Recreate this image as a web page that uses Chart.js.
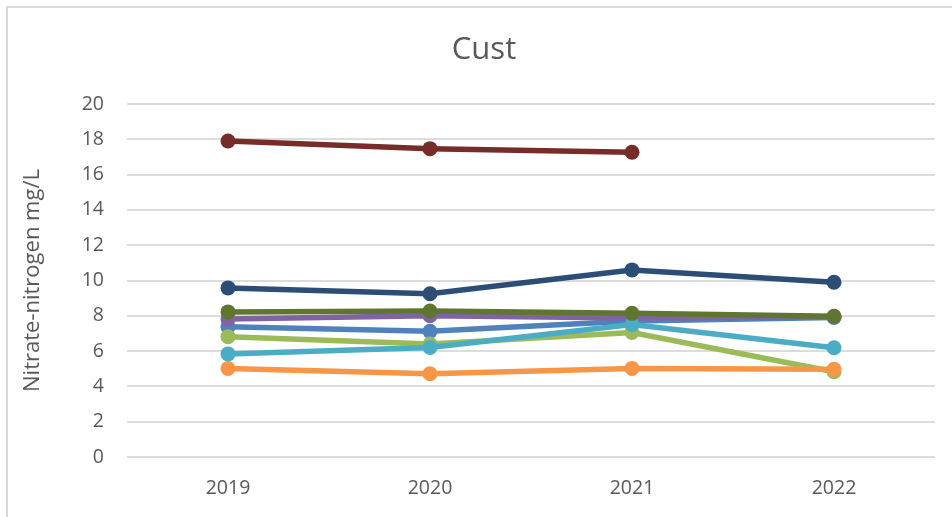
<!DOCTYPE html>
<html>
<head>
<meta charset="utf-8">
<script src="https://cdn.jsdelivr.net/npm/chart.js@4/dist/chart.umd.min.js"></script>
<style>
  html, body { margin: 0; padding: 0; background: #ffffff; }
  #wrap { width: 952px; height: 517px; position: relative; }
</style>
</head>
<body>
<div id="wrap"><canvas id="c" width="952" height="517"></canvas></div>
<script>
// Sampling years
const years = ['2019', '2020', '2021', '2022'];

// Nitrate-nitrogen readings (mg/L) per site, in series order
const siteBlue      = [7.38, 7.12, 7.70, 7.90];
const siteGreen     = [6.82, 6.40, 7.05, 4.83];
const sitePurple    = [7.82, 8.00, 7.88, 7.95];
const siteTeal      = [5.84, 6.21, 7.50, 6.19];
const siteOrange    = [5.02, 4.72, 5.02, 4.97];
const siteNavy      = [9.58, 9.25, 10.60, 9.90];
const siteMaroon    = [17.90, 17.47, 17.27, null];
const siteOlive     = [8.22, 8.27, 8.14, 7.97];

// Y axis ticks
const yTicks = [0, 2, 4, 6, 8, 10, 12, 14, 16, 18, 20];

const chartTitle = 'Cust';

const seriesList = [
  { data: siteBlue,   color: '#4F81BD' },
  { data: siteGreen,  color: '#9BBB59' },
  { data: sitePurple, color: '#8064A2' },
  { data: siteTeal,   color: '#4BACC6' },
  { data: siteOrange, color: '#F79646' },
  { data: siteNavy,   color: '#2C4D75' },
  { data: siteMaroon, color: '#772C2A' },
  { data: siteOlive,  color: '#5F7530' }
];

const FONT = "'Open Sans', 'Liberation Sans', sans-serif";
const TEXT = '#595959';

// White background, the light outer frame and the centred chart title
const framePlugin = {
  id: 'frame',
  beforeDraw(chart) {
    const ctx = chart.ctx;
    ctx.save();
    ctx.fillStyle = '#ffffff';
    ctx.fillRect(0, 0, chart.width, chart.height);
    ctx.strokeStyle = '#d9d9d9';
    ctx.lineWidth = 2;
    ctx.strokeRect(7, 7, 2000, 2000);
    ctx.fillStyle = TEXT;
    ctx.font = "31px " + FONT;
    ctx.textAlign = 'center';
    ctx.textBaseline = 'middle';
    ctx.fillText(chartTitle, 484, 50);
    ctx.restore();
  }
};

new Chart(document.getElementById('c'), {
  type: 'line',
  data: {
    labels: years,
    datasets: seriesList.map((s, i) => ({
      data: s.data,
      borderColor: s.color,
      backgroundColor: s.color,
      pointBackgroundColor: s.color,
      pointBorderColor: s.color,
      borderWidth: 5.5,
      pointRadius: 7.5,
      pointBorderWidth: 0,
      tension: 0,
      fill: false,
      spanGaps: false,
      order: seriesList.length - i
    }))
  },
  options: {
    responsive: false,
    animation: false,
    devicePixelRatio: 1,
    layout: { padding: { left: 0, right: 17, top: 104, bottom: 0 } },
    plugins: {
      legend: { display: false },
      tooltip: { enabled: false },
      title: { display: false }
    },
    scales: {
      x: {
        offset: true,
        grid: { display: false, drawTicks: false },
        border: { display: false },
        ticks: {
          color: TEXT,
          font: { family: FONT, size: 19.5 },
          padding: 20,
          maxRotation: 0
        },
        afterFit(scale) { scale.height = 60; }
      },
      y: {
        min: 0,
        max: 20,
        afterBuildTicks(scale) { scale.ticks = yTicks.map(v => ({ value: v })); },
        grid: { color: '#dcdcdc', lineWidth: 2, drawTicks: false },
        border: { display: false },
        ticks: {
          color: TEXT,
          font: { family: FONT, size: 19.5 },
          padding: 23
        },
        title: {
          display: true,
          text: 'Nitrate-nitrogen mg/L',
          color: TEXT,
          font: { family: FONT, size: 22, lineHeight: 1.2 },
          padding: { top: 20, bottom: 0 }
        },
        afterFit(scale) { scale.width = 127; }
      }
    }
  },
  plugins: [framePlugin]
});
</script>
</body>
</html>
